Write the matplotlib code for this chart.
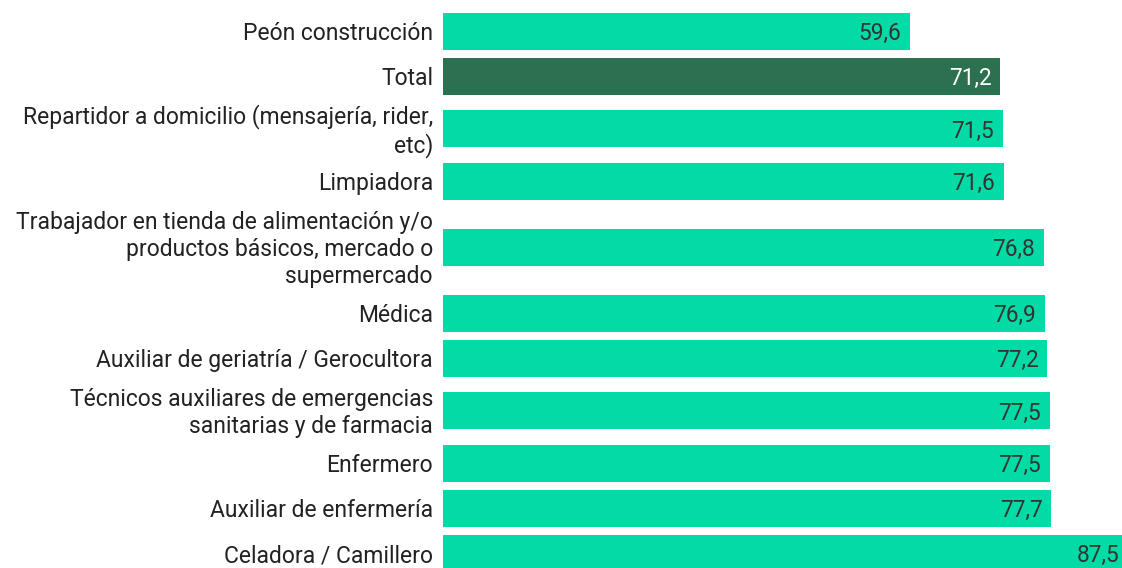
import matplotlib
matplotlib.use("Agg")
import matplotlib.pyplot as plt
from matplotlib.transforms import ScaledTranslation

plt.rcParams['font.family'] = ['Roboto', 'DejaVu Sans']

etiquetas = [
    "Peón construcción",
    "Total",
    "Repartidor a domicilio (mensajería, rider,\netc)",
    "Limpiadora",
    "Trabajador en tienda de alimentación y/o\nproductos básicos, mercado o\nsupermercado",
    "Médica",
    "Auxiliar de geriatría / Gerocultora",
    "Técnicos auxiliares de emergencias\nsanitarias y de farmacia",
    "Enfermero",
    "Auxiliar de enfermería",
    "Celadora / Camillero",
]
valores = [59.6, 71.2, 71.5, 71.6, 76.8, 76.9, 77.2, 77.5, 77.5, 77.7, 87.5]
es_total = [False, True, False, False, False, False, False, False, False, False, False]

VERDE = '#02dba6'
VERDE_OSCURO = '#2b7150'
GRIS = '#333333'

# alto de cada fila (en px) segun el numero de lineas de la etiqueta
posiciones = []
y = 8.5
for lab in etiquetas:
    n = lab.count("\n") + 1
    h = max(45, 27 * n + 6)
    posiciones.append(y + h / 2)
    y += h

W, H = 1122, 568
fig = plt.figure(figsize=(W / 100, H / 100), dpi=100)
x0 = 443
ax = fig.add_axes([x0 / W, 0, (W - x0) / W, 1])

colores = [VERDE_OSCURO if t else VERDE for t in es_total]
ax.barh(posiciones, valores, height=37, color=colores)

ax.set_ylim(H, 0)
ax.set_xlim(0, (W - x0) / 7.83)
ax.axis('off')

off_val = ax.transData + ScaledTranslation(-9 / 100, 0, fig.dpi_scale_trans)
off_lab = ax.transData + ScaledTranslation(-10 / 100, -2.5 / 100, fig.dpi_scale_trans)
for p, v, lab, t in zip(posiciones, valores, etiquetas, es_total):
    ax.text(v, p, f"{v:.1f}".replace(".", ","), ha='right', va='center_baseline',
            fontsize=16.3, color='white' if t else GRIS, transform=off_val)
    ax.text(0, p, lab, ha='right', va='center', fontsize=16.5, color='#222222',
            linespacing=1.25, transform=off_lab)

fig.savefig("out.png", dpi=100)
